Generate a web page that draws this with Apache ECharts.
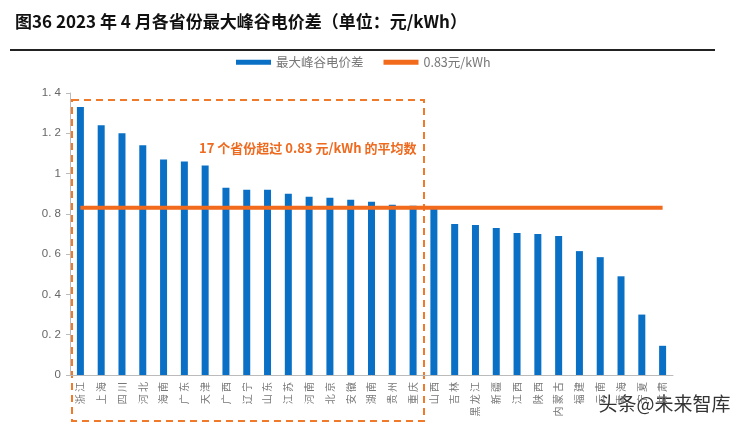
<!DOCTYPE html>
<html><head><meta charset="utf-8">
<script src="https://cdn.jsdelivr.net/npm/echarts@6/dist/echarts.min.js"></script>
<style>html,body{margin:0;padding:0;background:#fff}#c{width:750px;height:429px}</style>
</head><body><div id="c"></div>
<script>
const provinces = ['浙江','上海','四川','河北','海南','广东','天津','广西','辽宁','山东','江苏','河南','北京','安徽','湖南','贵州','重庆','山西','吉林','黑龙江','新疆','江西','陕西','内蒙古','福建','云南','青海','宁夏','甘肃'];
const maxSpread = [1.33,1.24,1.20,1.14,1.07,1.06,1.04,0.93,0.92,0.92,0.90,0.885,0.88,0.87,0.86,0.845,0.84,0.825,0.75,0.745,0.73,0.705,0.70,0.69,0.615,0.585,0.49,0.30,0.145];
const avgValue = 0.83;
const avgLine = provinces.map(() => avgValue);
const yTicks = [0,0.2,0.4,0.6,0.8,1,1.2,1.4];

const chart = echarts.init(document.getElementById('c'), null, {renderer:'canvas'});
chart.setOption({
  animation:false,
  backgroundColor:'#fff',
  title:{
    text:'图36 2023 年 4 月各省份最大峰谷电价差（单位：元/kWh）',
    left:10, top:8,
    textStyle:{fontSize:17, fontWeight:'bold', color:'#111', fontFamily:'Noto Sans CJK SC'}
  },
  legend:{
    top:51, left:231,
    itemWidth:35, itemHeight:5, itemGap:20,
    textStyle:{fontSize:12.5, color:'#777', fontFamily:'Noto Sans CJK SC'},
    data:[
      {name:'最大峰谷电价差', icon:'rect'},
      {name:avgValue+'元/kWh', icon:'rect'}
    ]
  },
  grid:{left:70, right:77, top:93, bottom:54},
  xAxis:{
    type:'category', data:provinces,
    axisLine:{lineStyle:{color:'#bbb'}},
    axisTick:{show:false},
    axisLabel:{rotate:90, interval:0, fontSize:10, color:'#777', margin:7, fontFamily:'Noto Sans CJK SC',
      formatter:s => s.split('').join(' ')}
  },
  yAxis:{
    type:'value', min:0, max:1.4, interval:0.2,
    axisLine:{show:true, lineStyle:{color:'#bbb'}},
    axisTick:{show:true, inside:false, length:4, lineStyle:{color:'#bbb'}},
    splitLine:{show:false},
    axisLabel:{fontSize:11.5, color:'#666', margin:9,
      formatter:v => { const t = yTicks.find(x => Math.abs(x-v)<1e-9); return String(+(t!==undefined?t:v).toFixed(1)).split('').join(' ').replace(/ \. /,'. '); }}
  },
  graphic:[
    {type:'line', shape:{x1:10,y1:50,x2:715,y2:50}, style:{stroke:'#222', lineWidth:2}},
    {type:'rect', shape:{x:72,y:100,width:352,height:321}, style:{fill:'none', stroke:'#F07A2A', lineWidth:2, lineDash:[7,5]}},
    {type:'text', left:199, top:142, style:{text:'17 个省份超过 0.83 元/kWh 的平均数', fill:'#EE6A1F', fontSize:13, fontWeight:'bold', fontFamily:'Noto Sans CJK SC'}},
    {type:'text', left:597, top:393, style:{text:'头条@未来智库', fill:'#333', fontSize:19, stroke:'#fff', lineWidth:3, fontFamily:'Noto Sans CJK SC'}}
  ],
  series:[
    {name:'最大峰谷电价差', type:'bar', data:maxSpread, barWidth:7,
      itemStyle:{color:'#0A70C6'}, z:2},
    {name:avgValue+'元/kWh', type:'line', data:avgLine, symbol:'none',
      lineStyle:{color:'#F26A1B', width:4}, itemStyle:{color:'#F26A1B'}, z:3}
  ]
});
</script></body></html>
